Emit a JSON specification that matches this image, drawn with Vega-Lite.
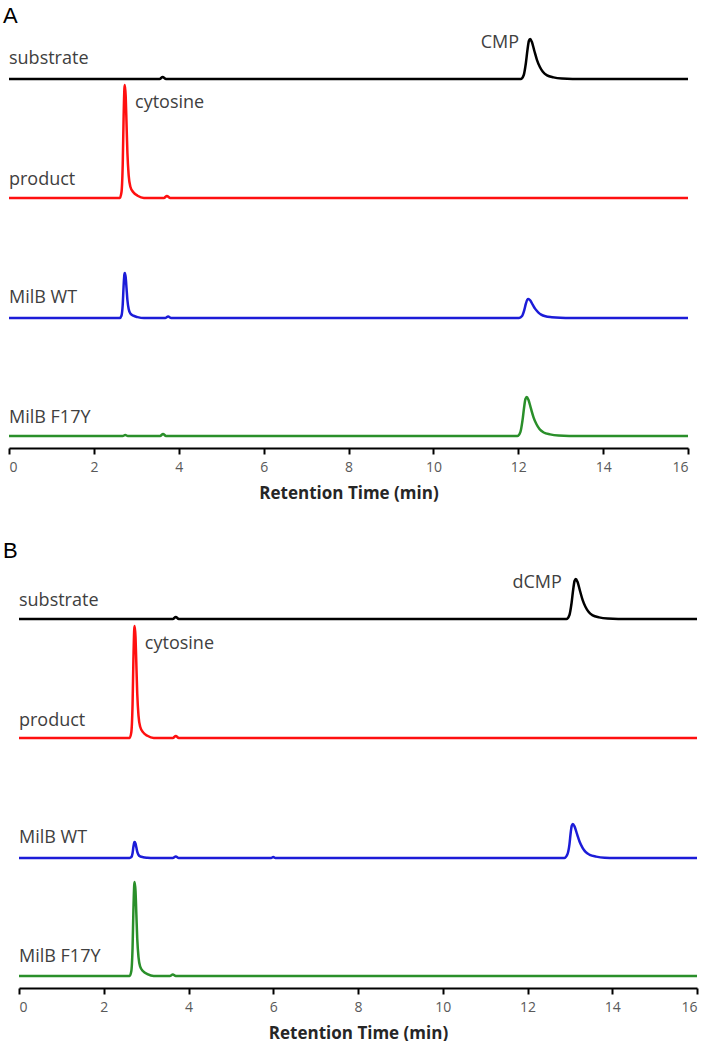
{
  "$schema": "https://vega.github.io/schema/vega-lite/v6.json",
  "background": "white",
  "padding": {"left": 2, "top": 4, "right": 0, "bottom": 0},
  "spacing": 38,
  "config": {
    "view": {"stroke": null},
    "axis": {
      "grid": false,
      "domainColor": "#000000",
      "domainWidth": 2,
      "tickColor": "#000000",
      "tickWidth": 2,
      "tickSize": 6,
      "labelFont": "Open Sans",
      "labelFontSize": 14,
      "labelColor": "#595959",
      "labelPadding": 6,
      "titleFont": "Open Sans",
      "titleFontSize": 17,
      "titleFontWeight": "bold",
      "titleColor": "#262626",
      "titlePadding": 11
    }
  },
  "datasets": {
    "A": [
      {"s": "substrate", "t": 0, "v": 369}, {"s": "substrate", "t": 3.55, "v": 369}, {"s": "substrate", "t": 3.62, "v": 371}, {"s": "substrate", "t": 3.7, "v": 369},
      {"s": "substrate", "t": 12.06, "v": 369}, {"s": "substrate", "t": 12.13, "v": 373}, {"s": "substrate", "t": 12.18, "v": 385}, {"s": "substrate", "t": 12.22, "v": 399},
      {"s": "substrate", "t": 12.25, "v": 407}, {"s": "substrate", "t": 12.28, "v": 409}, {"s": "substrate", "t": 12.32, "v": 406.2}, {"s": "substrate", "t": 12.38, "v": 397},
      {"s": "substrate", "t": 12.44, "v": 388.2}, {"s": "substrate", "t": 12.51, "v": 381}, {"s": "substrate", "t": 12.58, "v": 376.2}, {"s": "substrate", "t": 12.68, "v": 372.6},
      {"s": "substrate", "t": 12.83, "v": 370.6}, {"s": "substrate", "t": 13.03, "v": 369.4}, {"s": "substrate", "t": 13.28, "v": 369}, {"s": "substrate", "t": 16, "v": 369},

      {"s": "product", "t": 0, "v": 250}, {"s": "product", "t": 2.61, "v": 250}, {"s": "product", "t": 2.65, "v": 255.7}, {"s": "product", "t": 2.68, "v": 283.9},
      {"s": "product", "t": 2.7, "v": 329.1}, {"s": "product", "t": 2.72, "v": 359.6}, {"s": "product", "t": 2.73, "v": 363}, {"s": "product", "t": 2.75, "v": 351.7},
      {"s": "product", "t": 2.77, "v": 323.5}, {"s": "product", "t": 2.79, "v": 295.2}, {"s": "product", "t": 2.82, "v": 272.6}, {"s": "product", "t": 2.86, "v": 261.3},
      {"s": "product", "t": 2.93, "v": 255.7}, {"s": "product", "t": 3.03, "v": 252.3}, {"s": "product", "t": 3.18, "v": 250}, {"s": "product", "t": 3.65, "v": 250},
      {"s": "product", "t": 3.72, "v": 252}, {"s": "product", "t": 3.8, "v": 250}, {"s": "product", "t": 16, "v": 250},

      {"s": "MilB WT", "t": 0, "v": 130}, {"s": "MilB WT", "t": 2.61, "v": 130}, {"s": "MilB WT", "t": 2.65, "v": 132.3}, {"s": "MilB WT", "t": 2.68, "v": 143.5},
      {"s": "MilB WT", "t": 2.7, "v": 161.5}, {"s": "MilB WT", "t": 2.72, "v": 173.7}, {"s": "MilB WT", "t": 2.73, "v": 175}, {"s": "MilB WT", "t": 2.75, "v": 170.5},
      {"s": "MilB WT", "t": 2.77, "v": 159.3}, {"s": "MilB WT", "t": 2.79, "v": 148}, {"s": "MilB WT", "t": 2.82, "v": 139}, {"s": "MilB WT", "t": 2.86, "v": 134.5},
      {"s": "MilB WT", "t": 2.93, "v": 132.3}, {"s": "MilB WT", "t": 3.03, "v": 130.9}, {"s": "MilB WT", "t": 3.18, "v": 130}, {"s": "MilB WT", "t": 3.68, "v": 130},
      {"s": "MilB WT", "t": 3.75, "v": 131.5}, {"s": "MilB WT", "t": 3.82, "v": 130}, {"s": "MilB WT", "t": 12.02, "v": 130}, {"s": "MilB WT", "t": 12.09, "v": 131.9},
      {"s": "MilB WT", "t": 12.14, "v": 137.6}, {"s": "MilB WT", "t": 12.18, "v": 144.3}, {"s": "MilB WT", "t": 12.21, "v": 148.1}, {"s": "MilB WT", "t": 12.24, "v": 149},
      {"s": "MilB WT", "t": 12.28, "v": 147.7}, {"s": "MilB WT", "t": 12.34, "v": 143.3}, {"s": "MilB WT", "t": 12.4, "v": 139.1}, {"s": "MilB WT", "t": 12.47, "v": 135.7},
      {"s": "MilB WT", "t": 12.54, "v": 133.4}, {"s": "MilB WT", "t": 12.64, "v": 131.7}, {"s": "MilB WT", "t": 12.79, "v": 130.8}, {"s": "MilB WT", "t": 12.99, "v": 130.2},
      {"s": "MilB WT", "t": 13.24, "v": 130}, {"s": "MilB WT", "t": 16, "v": 130},

      {"s": "MilB F17Y", "t": 0, "v": 12}, {"s": "MilB F17Y", "t": 2.68, "v": 12}, {"s": "MilB F17Y", "t": 2.74, "v": 13}, {"s": "MilB F17Y", "t": 2.8, "v": 12},
      {"s": "MilB F17Y", "t": 3.56, "v": 12}, {"s": "MilB F17Y", "t": 3.63, "v": 14}, {"s": "MilB F17Y", "t": 3.7, "v": 12}, {"s": "MilB F17Y", "t": 11.98, "v": 12},
      {"s": "MilB F17Y", "t": 12.05, "v": 15.9}, {"s": "MilB F17Y", "t": 12.1, "v": 27.6}, {"s": "MilB F17Y", "t": 12.14, "v": 41.3}, {"s": "MilB F17Y", "t": 12.17, "v": 49.1},
      {"s": "MilB F17Y", "t": 12.2, "v": 51}, {"s": "MilB F17Y", "t": 12.24, "v": 48.3}, {"s": "MilB F17Y", "t": 12.3, "v": 39.3}, {"s": "MilB F17Y", "t": 12.36, "v": 30.7},
      {"s": "MilB F17Y", "t": 12.43, "v": 23.7}, {"s": "MilB F17Y", "t": 12.5, "v": 19}, {"s": "MilB F17Y", "t": 12.6, "v": 15.5}, {"s": "MilB F17Y", "t": 12.75, "v": 13.6},
      {"s": "MilB F17Y", "t": 12.95, "v": 12.4}, {"s": "MilB F17Y", "t": 13.2, "v": 12}, {"s": "MilB F17Y", "t": 16, "v": 12}
    ],
    "B": [
      {"s": "substrate", "t": 0, "v": 369}, {"s": "substrate", "t": 3.63, "v": 369}, {"s": "substrate", "t": 3.7, "v": 371}, {"s": "substrate", "t": 3.77, "v": 369},
      {"s": "substrate", "t": 12.92, "v": 369}, {"s": "substrate", "t": 12.99, "v": 373}, {"s": "substrate", "t": 13.04, "v": 385}, {"s": "substrate", "t": 13.08, "v": 399},
      {"s": "substrate", "t": 13.11, "v": 407}, {"s": "substrate", "t": 13.14, "v": 409}, {"s": "substrate", "t": 13.18, "v": 406.2}, {"s": "substrate", "t": 13.24, "v": 397},
      {"s": "substrate", "t": 13.3, "v": 388.2}, {"s": "substrate", "t": 13.37, "v": 381}, {"s": "substrate", "t": 13.44, "v": 376.2}, {"s": "substrate", "t": 13.54, "v": 372.6},
      {"s": "substrate", "t": 13.69, "v": 370.6}, {"s": "substrate", "t": 13.89, "v": 369.4}, {"s": "substrate", "t": 14.14, "v": 369}, {"s": "substrate", "t": 16, "v": 369},

      {"s": "product", "t": 0, "v": 250}, {"s": "product", "t": 2.61, "v": 250}, {"s": "product", "t": 2.65, "v": 255.6}, {"s": "product", "t": 2.68, "v": 283.6},
      {"s": "product", "t": 2.7, "v": 328.4}, {"s": "product", "t": 2.72, "v": 358.6}, {"s": "product", "t": 2.73, "v": 362}, {"s": "product", "t": 2.75, "v": 350.8},
      {"s": "product", "t": 2.77, "v": 322.8}, {"s": "product", "t": 2.79, "v": 294.8}, {"s": "product", "t": 2.82, "v": 272.4}, {"s": "product", "t": 2.86, "v": 261.2},
      {"s": "product", "t": 2.93, "v": 255.6}, {"s": "product", "t": 3.03, "v": 252.2}, {"s": "product", "t": 3.18, "v": 250}, {"s": "product", "t": 3.63, "v": 250},
      {"s": "product", "t": 3.7, "v": 252}, {"s": "product", "t": 3.77, "v": 250}, {"s": "product", "t": 16, "v": 250},

      {"s": "MilB WT", "t": 0, "v": 130}, {"s": "MilB WT", "t": 2.61, "v": 130}, {"s": "MilB WT", "t": 2.65, "v": 130.8}, {"s": "MilB WT", "t": 2.68, "v": 134.8},
      {"s": "MilB WT", "t": 2.7, "v": 141.2}, {"s": "MilB WT", "t": 2.72, "v": 145.5}, {"s": "MilB WT", "t": 2.73, "v": 146}, {"s": "MilB WT", "t": 2.75, "v": 144.4},
      {"s": "MilB WT", "t": 2.77, "v": 140.4}, {"s": "MilB WT", "t": 2.79, "v": 136.4}, {"s": "MilB WT", "t": 2.82, "v": 133.2}, {"s": "MilB WT", "t": 2.86, "v": 131.6},
      {"s": "MilB WT", "t": 2.93, "v": 130.8}, {"s": "MilB WT", "t": 3.03, "v": 130.3}, {"s": "MilB WT", "t": 3.18, "v": 130}, {"s": "MilB WT", "t": 3.63, "v": 130},
      {"s": "MilB WT", "t": 3.7, "v": 131.5}, {"s": "MilB WT", "t": 3.77, "v": 130}, {"s": "MilB WT", "t": 5.95, "v": 130}, {"s": "MilB WT", "t": 6.0, "v": 131},
      {"s": "MilB WT", "t": 6.05, "v": 130}, {"s": "MilB WT", "t": 12.87, "v": 130}, {"s": "MilB WT", "t": 12.94, "v": 133.4}, {"s": "MilB WT", "t": 12.99, "v": 143.6},
      {"s": "MilB WT", "t": 13.02, "v": 155.5}, {"s": "MilB WT", "t": 13.045, "v": 162.3}, {"s": "MilB WT", "t": 13.07, "v": 164}, {"s": "MilB WT", "t": 13.11, "v": 161.6},
      {"s": "MilB WT", "t": 13.17, "v": 153.8}, {"s": "MilB WT", "t": 13.23, "v": 146.3}, {"s": "MilB WT", "t": 13.3, "v": 140.2}, {"s": "MilB WT", "t": 13.37, "v": 136.1},
      {"s": "MilB WT", "t": 13.47, "v": 133.1}, {"s": "MilB WT", "t": 13.62, "v": 131.4}, {"s": "MilB WT", "t": 13.82, "v": 130.3}, {"s": "MilB WT", "t": 14.07, "v": 130},
      {"s": "MilB WT", "t": 16, "v": 130},

      {"s": "MilB F17Y", "t": 0, "v": 12}, {"s": "MilB F17Y", "t": 2.61, "v": 12}, {"s": "MilB F17Y", "t": 2.65, "v": 16.7}, {"s": "MilB F17Y", "t": 2.68, "v": 40.2},
      {"s": "MilB F17Y", "t": 2.7, "v": 77.8}, {"s": "MilB F17Y", "t": 2.72, "v": 103.2}, {"s": "MilB F17Y", "t": 2.73, "v": 106}, {"s": "MilB F17Y", "t": 2.75, "v": 96.6},
      {"s": "MilB F17Y", "t": 2.77, "v": 73.1}, {"s": "MilB F17Y", "t": 2.79, "v": 49.6}, {"s": "MilB F17Y", "t": 2.82, "v": 30.8}, {"s": "MilB F17Y", "t": 2.86, "v": 21.4},
      {"s": "MilB F17Y", "t": 2.93, "v": 16.7}, {"s": "MilB F17Y", "t": 3.03, "v": 13.9}, {"s": "MilB F17Y", "t": 3.18, "v": 12}, {"s": "MilB F17Y", "t": 3.56, "v": 12},
      {"s": "MilB F17Y", "t": 3.63, "v": 13.5}, {"s": "MilB F17Y", "t": 3.7, "v": 12}, {"s": "MilB F17Y", "t": 16, "v": 12}
    ],
    "labels": [
      {"panel": "A", "label": "substrate", "t": 0, "v": 389, "al": "left"},
      {"panel": "A", "label": "product", "t": 0, "v": 268, "al": "left"},
      {"panel": "A", "label": "cytosine", "t": 2.97, "v": 345, "al": "left"},
      {"panel": "A", "label": "CMP", "t": 12.02, "v": 405, "al": "right"},
      {"panel": "A", "label": "MilB WT", "t": 0, "v": 150, "al": "left"},
      {"panel": "A", "label": "MilB F17Y", "t": 0, "v": 30, "al": "left"},
      {"panel": "B", "label": "substrate", "t": 0, "v": 387, "al": "left"},
      {"panel": "B", "label": "product", "t": 0, "v": 267, "al": "left"},
      {"panel": "B", "label": "cytosine", "t": 2.97, "v": 344, "al": "left"},
      {"panel": "B", "label": "dCMP", "t": 12.81, "v": 405, "al": "right"},
      {"panel": "B", "label": "MilB WT", "t": 0, "v": 150, "al": "left"},
      {"panel": "B", "label": "MilB F17Y", "t": 0, "v": 31, "al": "left"}
    ],
    "letters": [
      {"panel": "A", "letter": "A", "t": -0.141, "v": 425},
      {"panel": "B", "letter": "B", "t": -0.378, "v": 430}
    ]
  },
  "vconcat": [
    {
      "width": 689,
      "height": 435,
      "layer": [
        {
          "data": {"name": "A"},
          "mark": {"type": "line", "strokeWidth": 2.5, "interpolate": "monotone"},
          "encoding": {
            "x": {
              "field": "t", "type": "quantitative",
              "scale": {"domain": [0, 16], "range": [0, 679], "nice": false, "zero": false},
              "axis": {"values": [0, 2, 4, 6, 8, 10, 12, 14, 16], "format": "d", "title": "Retention Time (min)"}
            },
            "y": {"field": "v", "type": "quantitative", "scale": {"domain": [0, 435], "nice": false, "zero": false}, "axis": null},
            "color": {
              "field": "s", "type": "nominal",
              "scale": {"domain": ["substrate", "product", "MilB WT", "MilB F17Y"], "range": ["#000000", "#ff1010", "#1c1cd8", "#2a8f2a"]},
              "legend": null
            },
            "order": {"field": "t", "type": "quantitative"}
          }
        },
        {
          "data": {"name": "labels"},
          "transform": [{"filter": "datum.panel === 'A' && datum.al === 'left'"}],
          "mark": {"type": "text", "align": "left", "baseline": "middle", "font": "Open Sans", "fontSize": 18, "color": "#404040"},
          "encoding": {"x": {"field": "t", "type": "quantitative"}, "y": {"field": "v", "type": "quantitative"}, "text": {"field": "label"}}
        },
        {
          "data": {"name": "labels"},
          "transform": [{"filter": "datum.panel === 'A' && datum.al === 'right'"}],
          "mark": {"type": "text", "align": "right", "baseline": "middle", "font": "Open Sans", "fontSize": 18, "color": "#404040"},
          "encoding": {"x": {"field": "t", "type": "quantitative"}, "y": {"field": "v", "type": "quantitative"}, "text": {"field": "label"}}
        },
        {
          "data": {"name": "letters"},
          "transform": [{"filter": "datum.panel === 'A'"}],
          "mark": {"type": "text", "align": "left", "baseline": "alphabetic", "font": "Liberation Sans", "fontSize": 22, "color": "#000000"},
          "encoding": {"x": {"field": "t", "type": "quantitative"}, "y": {"field": "v", "type": "quantitative"}, "text": {"field": "letter"}}
        }
      ]
    },
    {
      "width": 689,
      "height": 435,
      "layer": [
        {
          "data": {"name": "B"},
          "mark": {"type": "line", "strokeWidth": 2.5, "interpolate": "monotone"},
          "encoding": {
            "x": {
              "field": "t", "type": "quantitative",
              "scale": {"domain": [0, 16], "range": [10, 688], "nice": false, "zero": false},
              "axis": {"values": [0, 2, 4, 6, 8, 10, 12, 14, 16], "format": "d", "title": "Retention Time (min)"}
            },
            "y": {"field": "v", "type": "quantitative", "scale": {"domain": [0, 435], "nice": false, "zero": false}, "axis": null},
            "color": {
              "field": "s", "type": "nominal",
              "scale": {"domain": ["substrate", "product", "MilB WT", "MilB F17Y"], "range": ["#000000", "#ff1010", "#1c1cd8", "#2a8f2a"]},
              "legend": null
            },
            "order": {"field": "t", "type": "quantitative"}
          }
        },
        {
          "data": {"name": "labels"},
          "transform": [{"filter": "datum.panel === 'B' && datum.al === 'left'"}],
          "mark": {"type": "text", "align": "left", "baseline": "middle", "font": "Open Sans", "fontSize": 18, "color": "#404040"},
          "encoding": {"x": {"field": "t", "type": "quantitative"}, "y": {"field": "v", "type": "quantitative"}, "text": {"field": "label"}}
        },
        {
          "data": {"name": "labels"},
          "transform": [{"filter": "datum.panel === 'B' && datum.al === 'right'"}],
          "mark": {"type": "text", "align": "right", "baseline": "middle", "font": "Open Sans", "fontSize": 18, "color": "#404040"},
          "encoding": {"x": {"field": "t", "type": "quantitative"}, "y": {"field": "v", "type": "quantitative"}, "text": {"field": "label"}}
        },
        {
          "data": {"name": "letters"},
          "transform": [{"filter": "datum.panel === 'B'"}],
          "mark": {"type": "text", "align": "left", "baseline": "alphabetic", "font": "Liberation Sans", "fontSize": 22, "color": "#000000"},
          "encoding": {"x": {"field": "t", "type": "quantitative"}, "y": {"field": "v", "type": "quantitative"}, "text": {"field": "letter"}}
        }
      ]
    }
  ]
}
